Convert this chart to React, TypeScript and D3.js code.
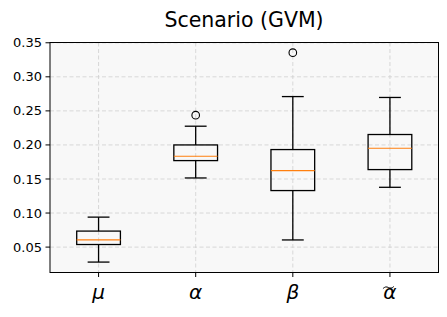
import React from "react";
import * as d3 from "d3";

const categories = ["μ", "α", "β", "α"];
const tildeOver = [false, false, false, true];
const whiskerLow = [0.028, 0.1515, 0.0605, 0.1378];
const q1 = [0.0538, 0.177, 0.133, 0.1638];
const medians = [0.0607, 0.1834, 0.1623, 0.1951];
const q3 = [0.0735, 0.2, 0.1932, 0.2153];
const whiskerHigh = [0.094, 0.2275, 0.271, 0.2697];
const outliers: number[][] = [[], [0.2437], [0.3355], []];
const yTicks = [0.05, 0.1, 0.15, 0.2, 0.25, 0.3, 0.35];

const W = 447;
const H = 317;
const M = { left: 50, right: 438.5, top: 42.5, bottom: 272.5 };

function tildePath(cx: number, cy: number, w: number, h: number) {
  const line = d3.line().curve(d3.curveBasis);
  return line([
    [cx - w / 2, cy + h / 2],
    [cx - w / 4, cy - h / 2],
    [cx, cy],
    [cx + w / 4, cy + h / 2],
    [cx + w / 2, cy - h / 2],
  ]) as string;
}

export default function App() {
  const x = d3.scaleLinear().domain([0.5, 4.5]).range([M.left, M.right]);
  const y = d3.scaleLinear().domain([0.0127, 0.3504]).range([M.bottom, M.top]);
  const boxW = x(1.45) - x(1);
  const capW = boxW / 2;
  const font = "'DejaVu Sans', sans-serif";
  const grid = "#cfcfcf";
  return (
    <svg
      width={W}
      height={H}
      style={{ position: "absolute", left: 0, top: 0, display: "block", background: "#fff" }}
    >
      <text x={244} y={27} textAnchor="middle" fontFamily={font} fontSize={20.5} fill="#000">
        Scenario (GVM)
      </text>
      <rect x={M.left} y={M.top} width={M.right - M.left} height={M.bottom - M.top} fill="#f8f8f8" />
      {yTicks.map((t) => (
        <line key={"gy" + t} x1={M.left} x2={M.right} y1={y(t)} y2={y(t)} stroke={grid} strokeWidth={0.8} strokeDasharray="4,2.5" />
      ))}
      {categories.map((c, i) => (
        <line key={"gx" + i} x1={x(i + 1)} x2={x(i + 1)} y1={M.top} y2={M.bottom} stroke={grid} strokeWidth={0.8} strokeDasharray="4,2.5" />
      ))}
      {categories.map((c, i) => {
        const cx = x(i + 1);
        return (
          <g key={"b" + i} stroke="#000" strokeWidth={1.3} fill="none">
            <line x1={cx} x2={cx} y1={y(q3[i])} y2={y(whiskerHigh[i])} />
            <line x1={cx} x2={cx} y1={y(q1[i])} y2={y(whiskerLow[i])} />
            <line x1={cx - capW / 2} x2={cx + capW / 2} y1={y(whiskerHigh[i])} y2={y(whiskerHigh[i])} />
            <line x1={cx - capW / 2} x2={cx + capW / 2} y1={y(whiskerLow[i])} y2={y(whiskerLow[i])} />
            <rect x={cx - boxW / 2} y={y(q3[i])} width={boxW} height={y(q1[i]) - y(q3[i])} />
            <line x1={cx - boxW / 2} x2={cx + boxW / 2} y1={y(medians[i])} y2={y(medians[i])} stroke="#ff7f0e" strokeWidth={1.2} />
            {outliers[i].map((o, j) => (
              <circle key={j} cx={cx} cy={y(o)} r={3.8} strokeWidth={1.1} />
            ))}
          </g>
        );
      })}
      <rect x={M.left} y={M.top} width={M.right - M.left} height={M.bottom - M.top} fill="none" stroke="#000" strokeWidth={1} />
      {yTicks.map((t) => (
        <g key={"yt" + t}>
          <line x1={M.left - 4.5} x2={M.left} y1={y(t)} y2={y(t)} stroke="#000" strokeWidth={1} />
          <text x={M.left - 8} y={y(t)} dy="0.35em" textAnchor="end" fontFamily={font} fontSize={13} fill="#000">
            {d3.format(".2f")(t)}
          </text>
        </g>
      ))}
      {categories.map((c, i) => (
        <g key={"xt" + i}>
          <line x1={x(i + 1)} x2={x(i + 1)} y1={M.bottom} y2={M.bottom + 4.5} stroke="#000" strokeWidth={1} />
          <text x={x(i + 1)} y={299} textAnchor="middle" fontFamily={font} fontStyle="italic" fontSize={20} fill="#000">
            {c}
          </text>
          {tildeOver[i] && (
            <path d={tildePath(x(i + 1) - 1.5, 287.5, 11, 2.2)} fill="none" stroke="#000" strokeWidth={1} />
          )}
        </g>
      ))}
    </svg>
  );
}
